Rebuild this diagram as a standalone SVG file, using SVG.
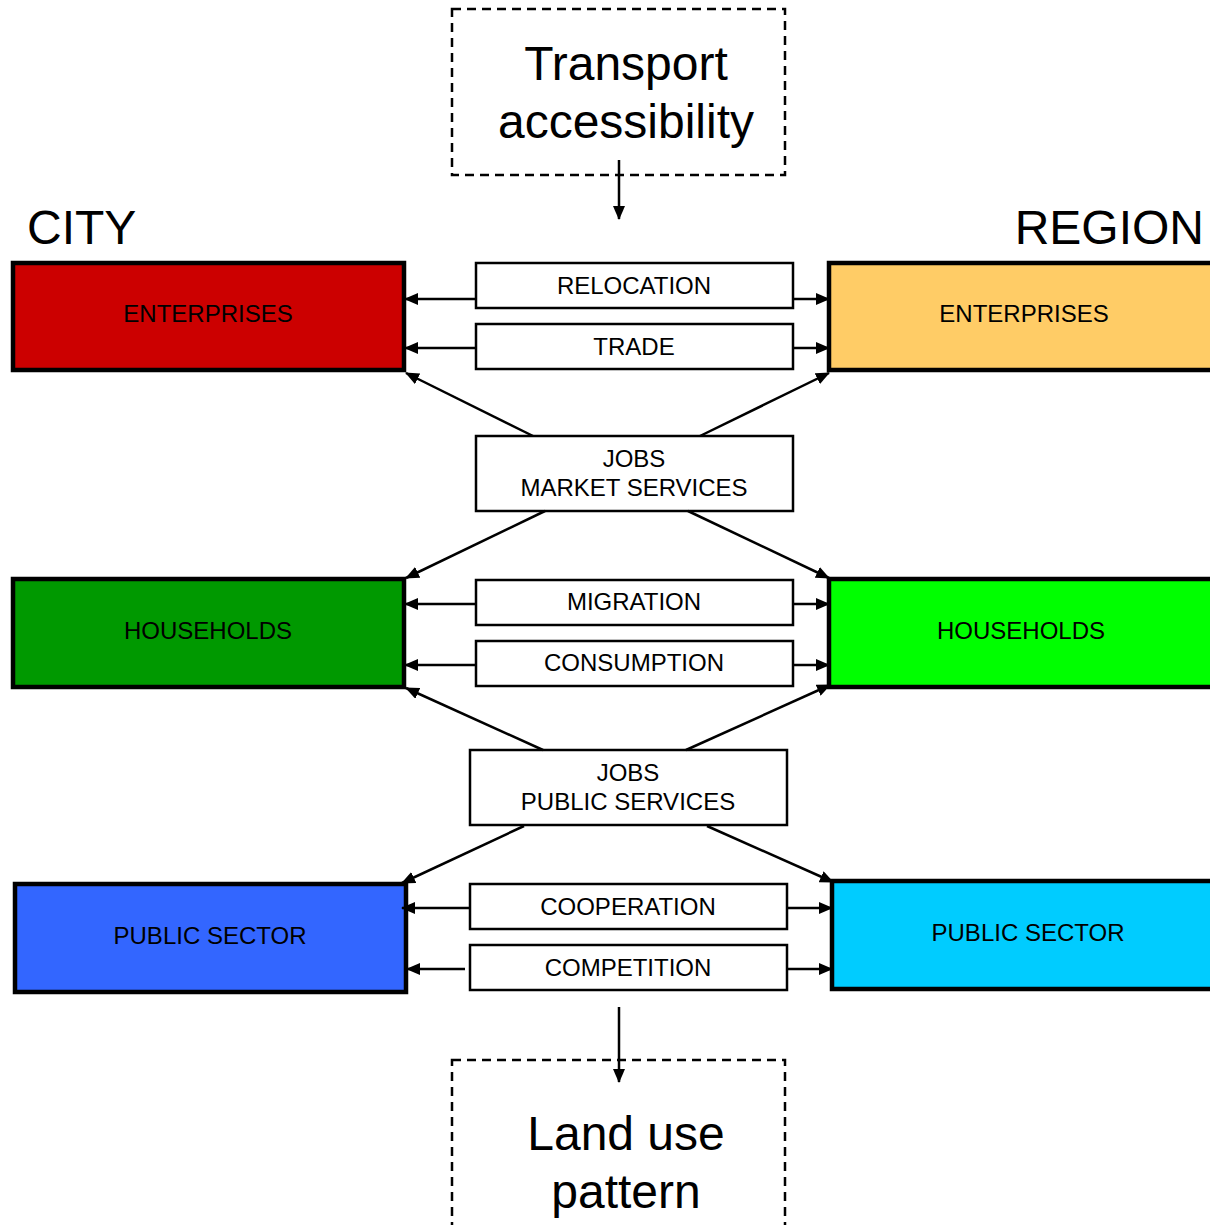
<svg xmlns="http://www.w3.org/2000/svg" width="1210" height="1225" viewBox="0 0 1210 1225">
<style>
text{font-family:"Liberation Sans",Arial,sans-serif;fill:#000;text-anchor:middle}
.big{font-size:48px}
.lbl{font-size:24px}
.node{stroke:#000;stroke-width:4.5}
.rel{fill:#fff;stroke:#000;stroke-width:2.5}
.dash{fill:#fff;stroke:#000;stroke-width:2.5;stroke-dasharray:9,6}
.con{stroke:#000;stroke-width:2.5;fill:none;marker-end:url(#ah)}
</style>
<defs>
<marker id="ah" viewBox="0 0 14 12" refX="13" refY="6" markerWidth="14" markerHeight="12" markerUnits="userSpaceOnUse" orient="auto">
<path d="M0,0 L14,6 L0,12 Z" fill="#000"/>
</marker>
</defs>
<rect width="1210" height="1225" fill="#fff"/>

<g id="transport">
<rect class="dash" x="452" y="9" width="333" height="166"/>
<text class="big" x="626" y="80">Transport</text>
<text class="big" x="626" y="138">accessibility</text>
</g>
<g id="landuse">
<rect class="dash" x="452" y="1060" width="333" height="180"/>
<text class="big" x="626" y="1150">Land use</text>
<text class="big" x="626" y="1208">pattern</text>
</g>

<g id="city-label"><text class="big" x="27" y="244" style="text-anchor:start">CITY</text></g>
<g id="region-label"><text class="big" x="1204" y="244" style="text-anchor:end">REGION</text></g>

<g id="city-enterprises"><rect class="node" x="13" y="263" width="391" height="107" fill="#CC0000"/><text class="lbl" x="208" y="322">ENTERPRISES</text></g>
<g id="region-enterprises"><rect class="node" x="829" y="263" width="390" height="107" fill="#FFCC66"/><text class="lbl" x="1024" y="322">ENTERPRISES</text></g>
<g id="city-households"><rect class="node" x="13" y="579" width="391" height="108" fill="#009900"/><text class="lbl" x="208" y="639">HOUSEHOLDS</text></g>
<g id="region-households"><rect class="node" x="829" y="579" width="390" height="108" fill="#00FF00"/><text class="lbl" x="1021" y="639">HOUSEHOLDS</text></g>
<g id="city-public"><rect class="node" x="15" y="884" width="391" height="108" fill="#3366FF"/><text class="lbl" x="210" y="944">PUBLIC SECTOR</text></g>
<g id="region-public"><rect class="node" x="832" y="881" width="390" height="108" fill="#00CCFF"/><text class="lbl" x="1028" y="941">PUBLIC SECTOR</text></g>

<g id="relocation"><rect class="rel" x="476" y="263" width="317" height="45"/><text class="lbl" x="634" y="294">RELOCATION</text></g>
<g id="trade"><rect class="rel" x="476" y="324" width="317" height="45"/><text class="lbl" x="634" y="355">TRADE</text></g>
<g id="jobs-market"><rect class="rel" x="476" y="436" width="317" height="75"/><text class="lbl" x="634" y="467">JOBS</text><text class="lbl" x="634" y="496">MARKET SERVICES</text></g>
<g id="migration"><rect class="rel" x="476" y="580" width="317" height="45"/><text class="lbl" x="634" y="610">MIGRATION</text></g>
<g id="consumption"><rect class="rel" x="476" y="641" width="317" height="45"/><text class="lbl" x="634" y="671">CONSUMPTION</text></g>
<g id="jobs-public"><rect class="rel" x="470" y="750" width="317" height="75"/><text class="lbl" x="628" y="781">JOBS</text><text class="lbl" x="628" y="810">PUBLIC SERVICES</text></g>
<g id="cooperation"><rect class="rel" x="470" y="884" width="317" height="45"/><text class="lbl" x="628" y="915">COOPERATION</text></g>
<g id="competition"><rect class="rel" x="470" y="945" width="317" height="45"/><text class="lbl" x="628" y="976">COMPETITION</text></g>

<g id="connectors">
<line class="con" x1="619" y1="160" x2="619" y2="219"/>
<line class="con" x1="476" y1="299" x2="405" y2="299"/>
<line class="con" x1="793" y1="299" x2="829" y2="299"/>
<line class="con" x1="476" y1="348" x2="405" y2="348"/>
<line class="con" x1="793" y1="348" x2="829" y2="348"/>
<line class="con" x1="533" y1="436" x2="406" y2="373"/>
<line class="con" x1="700" y1="436" x2="829" y2="373"/>
<line class="con" x1="545" y1="511" x2="406" y2="578"/>
<line class="con" x1="688" y1="511" x2="829" y2="578"/>
<line class="con" x1="476" y1="604" x2="405" y2="604"/>
<line class="con" x1="793" y1="604" x2="829" y2="604"/>
<line class="con" x1="476" y1="665" x2="405" y2="665"/>
<line class="con" x1="793" y1="665" x2="829" y2="665"/>
<line class="con" x1="543" y1="750" x2="406" y2="688"/>
<line class="con" x1="686" y1="750" x2="830" y2="685"/>
<line class="con" x1="524" y1="826" x2="402" y2="883"/>
<line class="con" x1="707" y1="826" x2="833" y2="882"/>
<line class="con" x1="470" y1="908" x2="402" y2="908"/>
<line class="con" x1="787" y1="908" x2="832" y2="908"/>
<line class="con" x1="465" y1="969" x2="407" y2="969"/>
<line class="con" x1="787" y1="969" x2="832" y2="969"/>
<line class="con" x1="619" y1="1007" x2="619" y2="1082"/>
</g>
</svg>
